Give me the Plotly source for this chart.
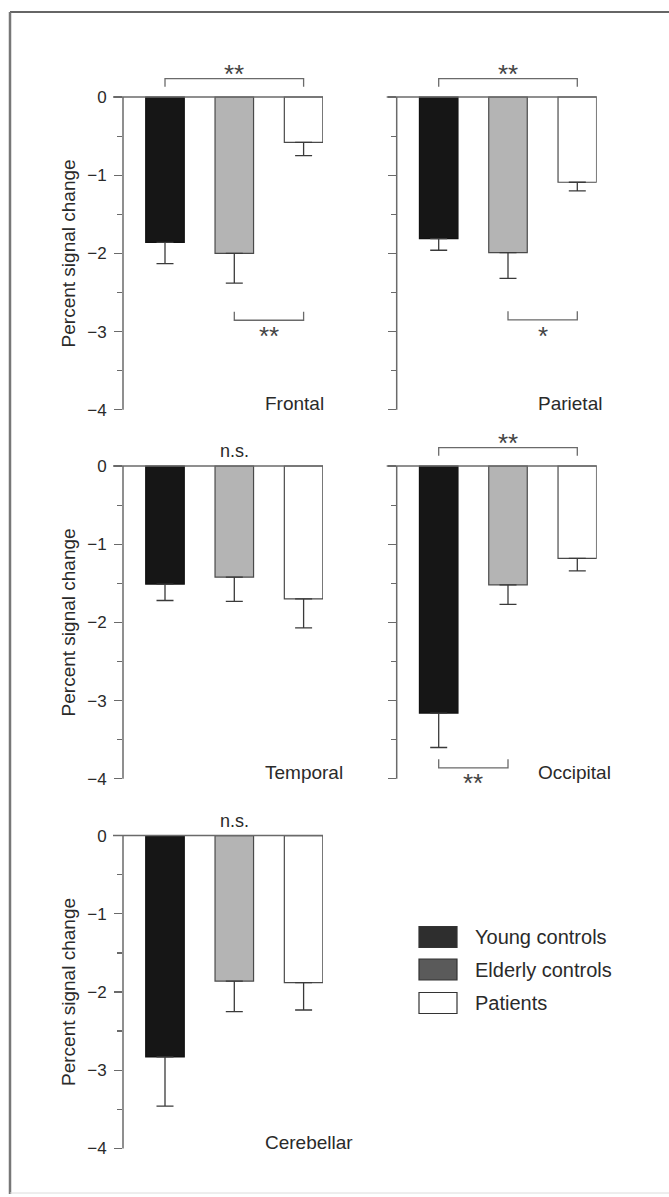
import plotly.graph_objects as go

# ---------------- data ----------------
regions = ["Frontal", "Parietal", "Temporal", "Occipital", "Cerebellar"]
groups = ["Young controls", "Elderly controls", "Patients"]
young_mean = [-1.86, -1.81, -1.51, -3.16, -2.83]
young_err = [0.27, 0.15, 0.21, 0.44, 0.63]
elderly_mean = [-2.00, -1.99, -1.42, -1.52, -1.86]
elderly_err = [0.38, 0.33, 0.31, 0.25, 0.39]
patient_mean = [-0.58, -1.09, -1.70, -1.18, -1.88]
patient_err = [0.17, 0.11, 0.37, 0.16, 0.35]

tick_vals = [0, -1, -2, -3, -4]
tick_text = ["0", "\u22121", "\u22122", "\u22123", "\u22124"]
minor_vals = [-0.5, -1.5, -2.5, -3.5]
y_title = "Percent signal change"

# significance: (region, group i, group j, label)
top_brackets = [("Frontal", 0, 2, "**"), ("Parietal", 0, 2, "**"), ("Occipital", 0, 2, "**")]
# (region, group i, group j, label, bracket level)
bottom_brackets = [("Frontal", 1, 2, "**", -2.855), ("Parietal", 1, 2, "*", -2.85),
                   ("Occipital", 0, 1, "**", -3.86)]
ns_regions = ["Temporal", "Cerebellar"]
ns_text = "n.s."

# ---------------- styling / layout ----------------
W, H = 669, 1197
FONT = "Liberation Sans, Arial, sans-serif"
TXT = "#2a2a2a"
AX = "#6a6a6a"
fills = ["#161616", "#b4b4b4", "#ffffff"]
edges = ["#111111", "#4a4a4a", "#4a4a4a"]
legend_fills = ["#2e2e2e", "#5a5a5a", "#ffffff"]

col_px = [123.0, 396.7]            # y-axis position (left edge of plot area)
plot_w_px = 200.0
row_zero_px = [97.0, 466.0, 835.6]  # pixel of y=0 per row
unit_px = 78.2
y_rng = [-4.15, 0.45]
x_rng = [-0.606, 2.28]
bar_w = 0.556

panel_pos = [(0, 0), (1, 0), (0, 1), (1, 1), (0, 2)]  # (col, row)

fig = go.Figure()
layout = dict(
    width=W, height=H, margin=dict(l=0, r=0, t=0, b=0),
    paper_bgcolor="white", plot_bgcolor="rgba(0,0,0,0)",
    showlegend=False, font=dict(family=FONT, color=TXT),
)
shapes = []
annotations = []

for k, reg in enumerate(regions):
    c, r = panel_pos[k]
    sfx = "" if k == 0 else str(k + 1)
    xa, ya = "x" + sfx, "y" + sfx
    x0p = col_px[c]
    top_px = row_zero_px[r] - y_rng[1] * unit_px
    bot_px = row_zero_px[r] - y_rng[0] * unit_px
    layout["xaxis" + sfx] = dict(
        domain=[x0p / W, (x0p + plot_w_px) / W], range=x_rng, anchor=ya,
        visible=False, fixedrange=True,
    )
    layout["yaxis" + sfx] = dict(
        domain=[1 - bot_px / H, 1 - top_px / H], range=y_rng, anchor=xa,
        showline=False, showgrid=False, zeroline=False, fixedrange=True,
        tickmode="array", tickvals=tick_vals, ticktext=tick_text,
        showticklabels=(c == 0),
        ticks="outside", ticklen=8, tickwidth=1.3, tickcolor=AX,
        ticklabelstandoff=4,
        tickfont=dict(family=FONT, size=17, color=TXT),
        minor=dict(tickmode="array", tickvals=minor_vals, ticks="outside",
                   ticklen=5, tickwidth=1.2, tickcolor=AX, showgrid=False),
    )
    means = [young_mean[k], elderly_mean[k], patient_mean[k]]
    errs = [young_err[k], elderly_err[k], patient_err[k]]
    fig.add_trace(go.Bar(
        x=[0, 1, 2], y=means, width=bar_w, xaxis=xa, yaxis=ya,
        marker=dict(color=fills, line=dict(color=edges, width=1.2)),
        error_y=dict(type="data", symmetric=False, array=[0, 0, 0], arrayminus=errs,
                     color="#3a3a3a", thickness=1.3, width=8.5),
        cliponaxis=False, hoverinfo="skip",
    ))
    # y-axis line from 0 to -4
    shapes.append(dict(type="line", xref=xa + " domain", yref=ya, x0=0, x1=0,
                       y0=tick_vals[0], y1=tick_vals[-1], line=dict(color=AX, width=1.5)))
    # zero baseline
    shapes.append(dict(type="line", xref=xa + " domain", yref=ya, x0=-0.05, x1=1,
                       y0=0, y1=0, line=dict(color=AX, width=1.5)))
    # region label
    annotations.append(dict(text=reg, xref=xa, yref=ya, x=1.41, y=-3.92,
                            xanchor="left", yanchor="middle", showarrow=False,
                            font=dict(family=FONT, size=19, color=TXT)))
    # axis title on left column
    if c == 0:
        annotations.append(dict(text=y_title, xref="paper", yref=ya, x=68 / W, y=-2.0,
                                textangle=-90, xanchor="center", yanchor="middle",
                                showarrow=False, font=dict(family=FONT, size=19, color=TXT)))
    if reg in ns_regions:
        annotations.append(dict(text=ns_text, xref=xa, yref=ya, x=1, y=0.19,
                                xanchor="center", yanchor="middle", showarrow=False,
                                font=dict(family=FONT, size=18, color=TXT)))
    for (rg, i, j, lab) in top_brackets:
        if rg != reg:
            continue
        yh, yl = 0.235, 0.13
        shapes.append(dict(type="path", xref=xa, yref=ya,
                           path=f"M {i},{yl} L {i},{yh} L {j},{yh} L {j},{yl}",
                           line=dict(color=AX, width=1.3)))
        annotations.append(dict(text=lab, xref=xa, yref=ya, x=(i + j) / 2, y=0.29,
                                xanchor="center", yanchor="middle", showarrow=False,
                                font=dict(family=FONT, size=26, color="#444")))
    for (rg, i, j, lab, yh) in bottom_brackets:
        if rg != reg:
            continue
        yl = yh + 0.11
        shapes.append(dict(type="path", xref=xa, yref=ya,
                           path=f"M {i},{yl} L {i},{yh} L {j},{yh} L {j},{yl}",
                           line=dict(color=AX, width=1.3)))
        annotations.append(dict(text=lab, xref=xa, yref=ya, x=(i + j) / 2, y=yh - 0.2,
                                xanchor="center", yanchor="middle", showarrow=False,
                                font=dict(family=FONT, size=26, color="#444")))

# legend (drawn manually)
leg_x0, leg_x1 = 419 / W, 457 / W
leg_rows_px = [937.0, 969.5, 1003.0]
for g, name in enumerate(groups):
    cy = leg_rows_px[g]
    shapes.append(dict(type="rect", xref="paper", yref="paper",
                       x0=leg_x0, x1=leg_x1, y0=1 - (cy + 10.5) / H, y1=1 - (cy - 10.5) / H,
                       fillcolor=legend_fills[g], line=dict(color="#333", width=1.2)))
    annotations.append(dict(text=name, xref="paper", yref="paper", x=473 / W, y=1 - cy / H,
                            xanchor="left", yanchor="middle", showarrow=False,
                            font=dict(family=FONT, size=20, color=TXT)))

# outer frame
shapes.append(dict(type="line", xref="paper", yref="paper", x0=10 / W, x1=1,
                   y0=1 - 12 / H, y1=1 - 12 / H, line=dict(color="#666", width=2)))
shapes.append(dict(type="line", xref="paper", yref="paper", x0=10 / W, x1=10 / W,
                   y0=1 - 12 / H, y1=1 - 1194 / H, line=dict(color="#777", width=2.5)))
shapes.append(dict(type="line", xref="paper", yref="paper", x0=10 / W, x1=1,
                   y0=1 - 1193 / H, y1=1 - 1193 / H, line=dict(color="#dcdcdc", width=1)))

layout["shapes"] = shapes
layout["annotations"] = annotations
fig.update_layout(**layout)
fig.write_html("out.html", config={"displayModeBar": False, "staticPlot": True},
               post_script="document.body.style.margin='0px';document.body.style.overflow='hidden';")
